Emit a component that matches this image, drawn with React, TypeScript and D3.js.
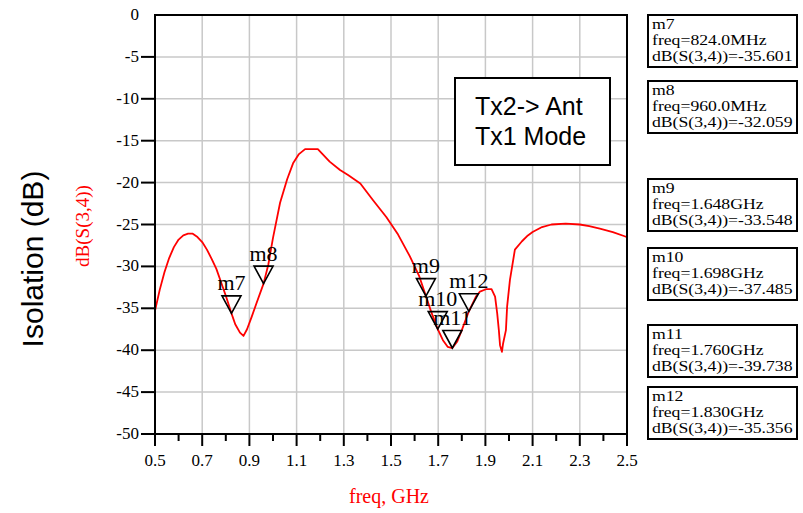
import React from "react";
import * as d3 from "d3";

// Isolation trace dB(S(3,4)) versus frequency (GHz)
const freqGHz = [
  0.5, 0.52, 0.54, 0.56, 0.58, 0.6, 0.62, 0.64, 0.66, 0.68, 0.7, 0.72, 0.74, 0.76, 0.78, 0.8,
  0.824, 0.84, 0.86, 0.875, 0.89, 0.91, 0.93, 0.96, 0.98, 1.0, 1.03, 1.06, 1.085, 1.11, 1.136,
  1.19, 1.21, 1.24, 1.284, 1.318, 1.37, 1.424, 1.48, 1.53, 1.58, 1.62, 1.648, 1.67, 1.698,
  1.72, 1.74, 1.76, 1.78, 1.8, 1.83, 1.86, 1.877, 1.905, 1.926, 1.941, 1.95, 1.957, 1.962,
  1.97, 1.975, 1.987, 1.992, 2.004, 2.025, 2.055, 2.08, 2.1, 2.14, 2.18, 2.24, 2.3, 2.34,
  2.385, 2.44, 2.49, 2.5,
];
const s34dB = [
  -35.3, -32.8, -30.7, -29.0, -27.7, -26.8, -26.3, -26.1, -26.1, -26.5, -27.1, -28.0, -29.1,
  -30.3, -31.9, -33.5, -35.601, -36.9, -37.9, -38.3, -37.5, -36.0, -34.4, -32.059, -29.8,
  -26.6, -22.4, -19.6, -17.7, -16.6, -16.0, -16.0, -16.6, -17.5, -18.5, -19.1, -20.1, -22.1,
  -24.1, -26.2, -28.8, -31.2, -33.548, -35.4, -37.485, -38.8, -39.6, -39.738, -39.0, -37.6,
  -35.356, -33.6, -33.0, -32.7, -32.7, -33.6, -35.6, -37.6, -39.4, -40.2, -39.2, -37.6, -34.8,
  -31.6, -28.0, -27.0, -26.3, -25.9, -25.3, -25.0, -24.9, -25.0, -25.2, -25.5, -25.9, -26.4,
  -26.5,
];

// Markers
const markerNames = ["m7", "m8", "m9", "m10", "m11", "m12"];
const markerFreqGHz = [0.824, 0.96, 1.648, 1.698, 1.76, 1.83];
const markerDb = [-35.601, -32.059, -33.548, -37.485, -39.738, -35.356];
const markerFreqText = ["824.0MHz", "960.0MHz", "1.648GHz", "1.698GHz", "1.760GHz", "1.830GHz"];
const markerBoxTop = [15, 81, 179, 248, 325, 387];

// Axis ticks
const xMajorTicks = [0.5, 0.7, 0.9, 1.1, 1.3, 1.5, 1.7, 1.9, 2.1, 2.3, 2.5];
const xMinorTicks = [0.6, 0.8, 1.0, 1.2, 1.4, 1.6, 1.8, 2.0, 2.2, 2.4];
const yTicks = [0, -5, -10, -15, -20, -25, -30, -35, -40, -45, -50];

const W = 803;
const H = 513;
const plot = { left: 155, right: 627, top: 15, bottom: 434 };

const serif = "'Liberation Serif', 'Times New Roman', serif";
const sans = "'Liberation Sans', Arial, sans-serif";

export default function App() {
  const x = d3.scaleLinear().domain([0.5, 2.5]).range([plot.left, plot.right]);
  const y = d3.scaleLinear().domain([0, -50]).range([plot.top, plot.bottom]);

  const pts: [number, number][] = freqGHz.map((f, i) => [f, s34dB[i]]);
  const line = d3
    .line<[number, number]>()
    .x((d) => x(d[0]))
    .y((d) => y(d[1]))
    .curve(d3.curveLinear);

  const gridX = xMajorTicks.filter((t) => t > 0.5 && t < 2.5);
  const gridY = yTicks.filter((t) => t < 0 && t > -50);

  return (
    <svg
      width={W}
      height={H}
      style={{ position: "absolute", left: 0, top: 0, background: "#fff" }}
    >
      {/* grid */}
      <g stroke="#c8c8c8" strokeWidth={1.5}>
        {gridX.map((t) => (
          <line key={"gx" + t} x1={x(t)} x2={x(t)} y1={plot.top} y2={plot.bottom} />
        ))}
        {gridY.map((t) => (
          <line key={"gy" + t} x1={plot.left} x2={plot.right} y1={y(t)} y2={y(t)} />
        ))}
      </g>

      {/* trace */}
      <path d={line(pts) || ""} fill="none" stroke="#ff0000" strokeWidth={1.8} strokeLinejoin="round" />

      {/* frame */}
      <rect
        x={plot.left}
        y={plot.top}
        width={plot.right - plot.left}
        height={plot.bottom - plot.top}
        fill="none"
        stroke="#000"
        strokeWidth={2}
      />

      {/* ticks */}
      <g stroke="#000" strokeWidth={2}>
        {xMajorTicks.map((t) => (
          <line key={"xt" + t} x1={x(t)} x2={x(t)} y1={plot.bottom} y2={plot.bottom + 12} />
        ))}
        {xMinorTicks.map((t) => (
          <line key={"xm" + t} x1={x(t)} x2={x(t)} y1={plot.bottom} y2={plot.bottom + 7} />
        ))}
        {yTicks
          .filter((t) => t < 0)
          .map((t) => (
            <line key={"yt" + t} x1={plot.left - 14} x2={plot.left} y1={y(t)} y2={y(t)} />
          ))}
      </g>
      <g fontFamily={serif} fontSize={17} fill="#000">
        {xMajorTicks.map((t) => (
          <text key={"xl" + t} x={x(t)} y={466} textAnchor="middle">
            {t.toFixed(1)}
          </text>
        ))}
        {yTicks.map((t) => (
          <text key={"yl" + t} x={139} y={y(t) + 5} textAnchor="end">
            {t}
          </text>
        ))}
      </g>

      {/* axis titles */}
      <text
        transform="translate(43,259) rotate(-90)"
        textAnchor="middle"
        fontFamily={sans}
        fontSize={30}
        fill="#000"
      >
        Isolation (dB)
      </text>
      <text
        transform="translate(89,226) rotate(-90)"
        textAnchor="middle"
        fontFamily={serif}
        fontSize={19}
        fill="#ff0000"
      >
        dB(S(3,4))
      </text>
      <text x={389} y={503} textAnchor="middle" fontFamily={serif} fontSize={20} fill="#ff0000">
        freq, GHz
      </text>

      {/* markers on trace */}
      {markerNames.map((name, i) => {
        const mx = x(markerFreqGHz[i]);
        const my = y(markerDb[i]);
        const tri = `M${mx},${my} L${mx - 9.5},${my - 17.5} L${mx + 9.5},${my - 17.5} Z`;
        return (
          <g key={name}>
            <path d={tri} fill="none" stroke="#000" strokeWidth={1.6} strokeLinejoin="miter" />
            <text
              x={mx}
              y={my - 23}
              textAnchor="middle"
              fontFamily={serif}
              fontSize={22}
              fill="#000"
            >
              {name}
            </text>
          </g>
        );
      })}

      {/* annotation box */}
      <rect x={455} y={78} width={155} height={87} fill="#fff" stroke="#000" strokeWidth={2} />
      <g fontFamily={sans} fontSize={25} fill="#000">
        <text x={475} y={115}>Tx2-&gt; Ant</text>
        <text x={475} y={145}>Tx1 Mode</text>
      </g>

      {/* marker readouts */}
      {markerNames.map((name, i) => {
        const top = markerBoxTop[i];
        return (
          <g key={"box" + name}>
            <rect x={648} y={top} width={149} height={52} fill="#fff" stroke="#000" strokeWidth={2} />
            <g
              transform={`translate(652,${top}) scale(1.22,1)`}
              fontFamily={serif}
              fontSize={14.5}
              fill="#000"
            >
              <text x={0} y={14}>{name}</text>
              <text x={0} y={30}>freq={markerFreqText[i]}</text>
              <text x={0} y={46}>dB(S(3,4))={markerDb[i].toFixed(3)}</text>
            </g>
          </g>
        );
      })}
    </svg>
  );
}
